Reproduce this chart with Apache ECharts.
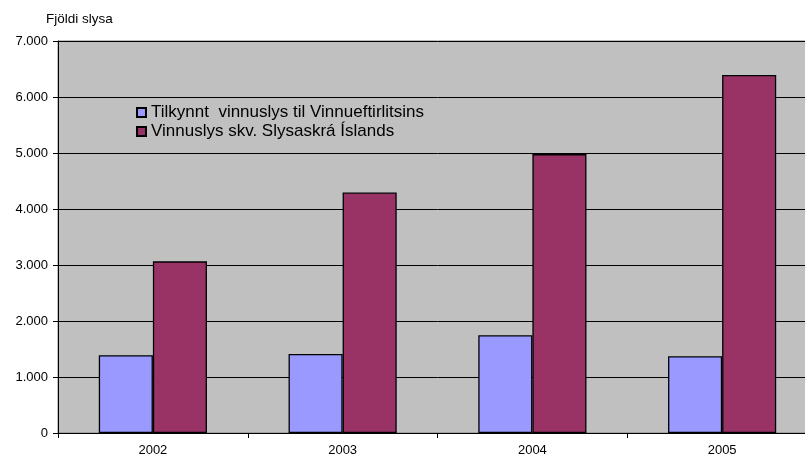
<!DOCTYPE html>
<html><head><meta charset="utf-8">
<script src="https://cdn.jsdelivr.net/npm/echarts@6/dist/echarts.min.js"></script>
<style>html,body{margin:0;padding:0;background:#fff;overflow:hidden;width:805px;height:460px}#c{width:817px;height:460px}</style>
</head><body><div id="c"></div>
<script>
var categories = ['2002', '2003', '2004', '2005'];
var seriesNames = ['Tilkynnt  vinnuslys til Vinnueftirlitsins', 'Vinnuslys skv. Slysaskrá Íslands'];
var tilkynnt = [1390, 1410, 1745, 1370];
var slysaskra = [3065, 4295, 4980, 6395];
var yTicks = [0, 1000, 2000, 3000, 4000, 5000, 6000, 7000];

var chart = echarts.init(document.getElementById('c'), null, {renderer: 'canvas'});
var font = 'Liberation Sans, Arial, sans-serif';
chart.setOption({
  animation: false,
  textStyle: {fontFamily: font},
  grid: {left: 58, top: 41, right: 0, height: 392, show: true, backgroundColor: '#C0C0C0', borderColor: '#808080', borderWidth: 1},
  graphic: [{type: 'text', left: 46, top: 12, style: {text: 'Fjöldi slysa', font: '13.5px ' + font, fill: '#000'}}],
  legend: {
    orient: 'vertical', left: 136, top: 104, itemWidth: 9, itemHeight: 9, itemGap: 2,
    icon: 'rect', padding: 0,
    textStyle: {fontSize: 17, color: '#000', fontFamily: font},
    data: seriesNames
  },
  xAxis: {
    type: 'category', data: categories,
    axisLine: {lineStyle: {color: '#000', width: 1}},
    axisTick: {show: true, length: 5, lineStyle: {color: '#000'}},
    axisLabel: {fontSize: 13, color: '#000', margin: 11, fontFamily: font}
  },
  yAxis: {
    type: 'value', min: yTicks[0], max: yTicks[yTicks.length - 1], interval: 1000,
    axisLine: {show: true, lineStyle: {color: '#000', width: 1}},
    axisTick: {show: true, length: 5, lineStyle: {color: '#000'}},
    axisLabel: {fontSize: 13, color: '#000', margin: 10, fontFamily: font,
      formatter: function (v) { return v === 0 ? '0' : String(v).replace(/\B(?=(\d{3})+(?!\d))/g, '.'); }},
    splitLine: {show: true, lineStyle: {color: '#000', width: 1}}
  },
  series: [
    {name: seriesNames[0], type: 'bar', data: tilkynnt, barGap: '0%', barCategoryGap: '43%',
     itemStyle: {color: '#9999FF', borderColor: '#000', borderWidth: 1.3}},
    {name: seriesNames[1], type: 'bar', data: slysaskra, barGap: '0%', barCategoryGap: '43%',
     itemStyle: {color: '#993366', borderColor: '#000', borderWidth: 1.3}}
  ]
});
</script></body></html>
